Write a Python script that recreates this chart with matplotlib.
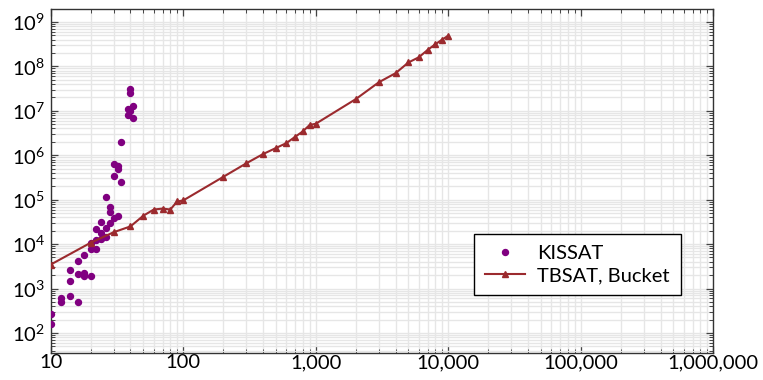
import numpy as np
import matplotlib
matplotlib.use('Agg')
import matplotlib.pyplot as plt
from matplotlib.ticker import LogLocator, FuncFormatter, NullFormatter

plt.rcParams['font.family'] = ['Lato', 'DejaVu Sans']
plt.rcParams['mathtext.fontset'] = 'custom'
plt.rcParams['mathtext.rm'] = 'Lato'
plt.rcParams['mathtext.it'] = 'Lato:italic'
plt.rcParams['mathtext.bf'] = 'Lato:bold'

# KISSAT runs (instance size, steps)
kissat_x = [10, 10, 12, 12, 14, 14, 14, 16, 16, 16, 18, 18, 18, 20, 20, 20,
            22, 22, 22, 24, 24, 24, 26, 26, 26, 28, 28, 28, 30, 30, 30,
            32, 32, 32, 34, 34, 38, 38, 40, 40, 40, 42, 42]
kissat_y = [263, 163, 620, 490, 2570, 1450, 690, 4100, 2140, 510, 5600, 2250, 1900,
            10700, 7600, 1900, 21800, 12300, 7800, 32000, 18000, 13200,
            112000, 23500, 14500, 70000, 54000, 29500, 630000, 345000, 39000,
            560000, 490000, 44000, 2.0e6, 250000, 1.1e7, 8.1e6,
            3.1e7, 2.45e7, 1.0e7, 1.28e7, 6.8e6]

# TBSAT with bucket strategy
tbsat_x = [10, 20, 30, 40, 50, 60, 70, 80, 90, 100,
           200, 300, 400, 500, 600, 700, 800, 900, 1000,
           2000, 3000, 4000, 5000, 6000, 7000, 8000, 9000, 10000]
tbsat_y = [3460, 10700, 18600, 25000, 43500, 60000, 63000, 60000, 91000, 96000,
           324000, 660000, 1.06e6, 1.45e6, 1.87e6, 2.6e6, 3.45e6, 4.8e6, 5.1e6,
           1.82e7, 4.4e7, 7.0e7, 1.22e8, 1.6e8, 2.35e8, 3.15e8, 4.0e8, 4.9e8]

fig = plt.figure(figsize=(7.63, 3.8), dpi=100)
ax = fig.add_axes([0.0664, 0.0711, 0.8685, 0.9052])

ax.plot(kissat_x, kissat_y, linestyle='none', marker='o', markersize=4.3,
        color='#800080', label='KISSAT', zorder=3)
ax.plot(tbsat_x, tbsat_y, color='#9b2a2e', linewidth=1.5, marker='^',
        markersize=4.5, label='TBSAT, Bucket', zorder=4)

ax.set_xscale('log')
ax.set_yscale('log')
ax.set_xlim(10, 1e6)
ax.set_ylim(10 ** 1.55, 10 ** 9.29)

ax.xaxis.set_major_locator(LogLocator(base=10, numticks=10))
ax.xaxis.set_minor_locator(LogLocator(base=10, subs=np.arange(2, 10), numticks=20))
ax.xaxis.set_major_formatter(FuncFormatter(lambda v, p: '{:,}'.format(int(round(v)))))
ax.xaxis.set_minor_formatter(NullFormatter())
ax.yaxis.set_major_locator(LogLocator(base=10, numticks=12))
ax.yaxis.set_minor_locator(LogLocator(base=10, subs=np.arange(2, 10), numticks=24))
ax.yaxis.set_minor_formatter(NullFormatter())

ax.grid(True, which='both', color='#e6e6e6', linewidth=1.0, zorder=0)
ax.set_axisbelow(True)
ax.tick_params(which='both', direction='in', top=True, right=True,
               colors='#444444', labelcolor='black', labelsize=14.5)
ax.tick_params(axis='x', which='major', pad=1.0)
ax.tick_params(axis='y', which='major', pad=4)
ax.tick_params(which='major', length=5, width=0.9)
ax.tick_params(which='minor', length=3, width=0.7)
for s in ax.spines.values():
    s.set_color('#333333')
    s.set_linewidth(1.0)

leg = ax.legend(loc='lower right', bbox_to_anchor=(0.951, 0.168), fontsize=14.5,
                frameon=True, fancybox=False, edgecolor='black', framealpha=1,
                handlelength=2.0, handletextpad=0.6, borderpad=0.55,
                labelspacing=0.25, borderaxespad=0)
leg.get_frame().set_linewidth(1.0)

fig.savefig('out.png', dpi=100)
